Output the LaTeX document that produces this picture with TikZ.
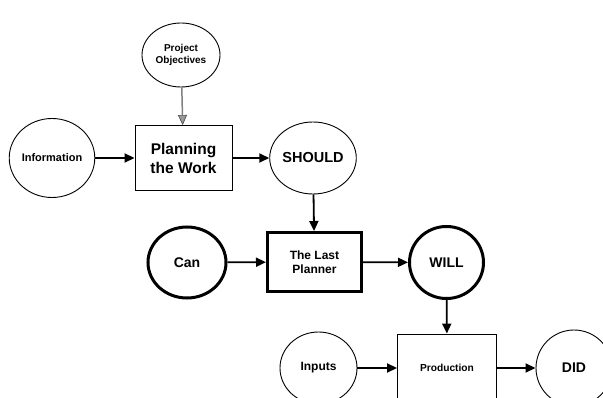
\documentclass[tikz,border=0pt]{standalone}
\usepackage{fontspec}
\setmainfont{Liberation Sans}
\usetikzlibrary{arrows.meta,shapes.geometric}
\tikzset{
  circ/.style={ellipse, draw, line width=0.9pt, inner sep=0pt, font=\bfseries},
  circthick/.style={circ, line width=3pt},
  boxn/.style={rectangle, draw, line width=0.9pt, inner sep=0pt, align=center, font=\bfseries},
  boxthick/.style={boxn, line width=3pt},
  flow/.style={line width=1.8pt, -{Triangle[length=10pt,width=9pt]}},
  gflow/.style={line width=1.5pt, draw=gray, -{Triangle[length=10pt,width=9pt,fill=gray!80,color=black!70,line width=0.6pt]}}
}
\begin{document}
\begin{tikzpicture}[x=1pt,y=-1pt]
  \useasboundingbox (0,0) rectangle (603,398);
  \clip (0,0) rectangle (603,398);

  % planning level
  \node[circ, minimum width=78pt, minimum height=64pt, align=center, font=\bfseries\fontsize{10}{12}\selectfont]
    (obj) at (181,55) {Project\\Objectives};
  \node[circ, minimum width=78pt, minimum height=79pt, font=\bfseries\fontsize{11}{13}\selectfont]
    (info) at (52,158) {Information};
  \node[boxn, minimum width=97pt, minimum height=65pt, font=\bfseries\fontsize{15.5}{19}\selectfont]
    (plan) at (183.5,158) {Planning\\the Work};
  \node[circ, minimum width=78pt, minimum height=72pt, font=\bfseries\fontsize{14.5}{17}\selectfont]
    (should) at (313,158) {SHOULD};

  % last planner level
  \node[circthick, minimum width=78pt, minimum height=71pt, font=\bfseries\fontsize{14}{17}\selectfont]
    (can) at (187,262.5) {Can};
  \node[boxthick, minimum width=94pt, minimum height=59pt, font=\bfseries\fontsize{12}{14.5}\selectfont]
    (lp) at (314.5,262) {The Last\\Planner};
  \node[circthick, minimum width=74pt, minimum height=72pt, font=\bfseries\fontsize{14}{17}\selectfont]
    (will) at (446.5,262.5) {WILL};

  % production level
  \node[circ, minimum width=77pt, minimum height=72pt, font=\bfseries\fontsize{12}{14}\selectfont]
    (inputs) at (318.5,368) {Inputs};
  \node[boxn, minimum width=99pt, minimum height=68pt, font=\bfseries\fontsize{10.2}{12}\selectfont]
    (prod) at (447,368) {Production};
  \node[circ, minimum width=76pt, minimum height=76pt, font=\bfseries\fontsize{14}{17}\selectfont]
    (did) at (574,368) {DID};

  % connectors
  \draw[gflow] (obj) -- (plan);
  \draw[flow] (info) -- (plan);
  \draw[flow] (plan) -- (should);
  \draw[flow] (should) -- (lp);
  \draw[flow] (can) -- (lp);
  \draw[flow] (lp) -- (will);
  \draw[flow] (will) -- (prod);
  \draw[flow] (inputs) -- (prod);
  \draw[flow] (prod) -- (did);
\end{tikzpicture}
\end{document}
